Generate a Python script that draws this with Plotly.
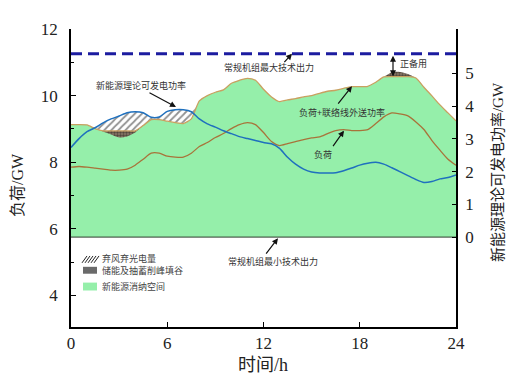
import numpy as np
import plotly.graph_objects as go

# ---------------- data ----------------
hours = [0, 0.5, 1, 1.5, 2, 2.5, 3, 3.5, 4, 4.5, 5, 5.5, 6, 6.5, 7, 7.5, 8, 8.5, 9, 9.5,
         10, 10.5, 11, 11.5, 12, 12.5, 13, 13.5, 14, 14.5, 15, 15.5, 16, 16.5, 17, 17.5,
         18, 18.5, 19, 19.5, 20, 20.5, 21, 21.5, 22, 22.5, 23, 23.5, 24]

# load + tie-line export (GW), before storage
load_tie = [9.13, 9.13, 9.12, 9.01, 8.92, 8.83, 8.74, 8.77, 8.89, 9.10, 9.28, 9.28, 9.23,
            9.19, 9.16, 9.30, 9.84, 10.00, 10.10, 10.17, 10.37, 10.46, 10.52, 10.46, 10.19,
            9.96, 9.82, 9.87, 9.91, 9.96, 10.00, 10.07, 10.13, 10.16, 10.22, 10.27, 10.27,
            10.28, 10.40, 10.56, 10.70, 10.71, 10.65, 10.53, 10.25, 9.99, 9.72, 9.48, 9.24]

# load (GW)
load = [7.85, 7.87, 7.85, 7.82, 7.79, 7.76, 7.76, 7.79, 7.91, 8.09, 8.27, 8.27, 8.18, 8.15,
        8.15, 8.27, 8.47, 8.59, 8.74, 8.86, 9.01, 9.13, 9.19, 9.13, 8.89, 8.62, 8.50, 8.56,
        8.62, 8.68, 8.73, 8.76, 8.86, 8.95, 8.98, 8.95, 8.95, 8.98, 9.16, 9.36, 9.48, 9.45,
        9.39, 9.21, 8.98, 8.65, 8.36, 8.09, 7.91]

# renewable theoretical generation (GW, right axis)
renewable = [2.74, 3.01, 3.22, 3.34, 3.49, 3.61, 3.70, 3.80, 3.83, 3.80, 3.66, 3.67, 3.84,
             3.89, 3.89, 3.83, 3.61, 3.46, 3.36, 3.25, 3.16, 3.07, 3.01, 2.95, 2.89, 2.85,
             2.71, 2.44, 2.23, 2.08, 1.99, 1.96, 1.96, 1.97, 2.03, 2.11, 2.20, 2.26, 2.29,
             2.23, 2.12, 2.00, 1.88, 1.76, 1.67, 1.70, 1.78, 1.82, 1.90]

max_output = 11.26      # conventional units max technical output (GW)
min_output = 5.75       # conventional units min technical output (GW)
valley_level = 8.94     # storage valley filling level
peak_level = 10.57      # storage peak shaving level

x_ticks = [0, 6, 12, 18, 24]
y_ticks = [4, 6, 8, 10, 12]
y2_ticks = [0, 1, 2, 3, 4, 5]

# ---------------- layout geometry (page pixels; page body has an 8px margin) ----------------
BODY = 8
W, H = 520 - BODY, 384 - BODY
PX0, PX1, PY0, PY1 = 71, 456, 25, 327
ML, MT = PX0 - BODY, PY0 - BODY
MR, MB = BODY + W - PX1, BODY + H - PY1
PW, PH = PX1 - PX0, PY1 - PY0
X_RANGE = [0, 24]
L_RANGE = [3.05, 12]
R_RANGE = [-2.741, 6.355]

def px2h(px):
    return X_RANGE[0] + (px - PX0) / PW * (X_RANGE[1] - X_RANGE[0])

def py2v(py):
    return L_RANGE[1] - (py - PY0) / PH * (L_RANGE[1] - L_RANGE[0])

def px2p(px):
    return (px - PX0) / PW

def py2p(py):
    return (PY1 - py) / PH

def r2l(v):
    v = np.asarray(v, dtype=float)
    return L_RANGE[0] + (v - R_RANGE[0]) / (R_RANGE[1] - R_RANGE[0]) * (L_RANGE[1] - L_RANGE[0])

h = np.array(hours)
orig = np.array(load_tie)
adj = np.where(h < 12, np.maximum(orig, valley_level), np.minimum(orig, peak_level))
blue_l = r2l(renewable)
curtail_top = np.maximum(blue_l, adj)

GREEN = '#95EFAA'
TAN = '#C9A060'
BROWN = '#A8733A'
BLUE = '#1F70BE'
NAVY = '#1C1CA0'
SPL = dict(shape='spline', smoothing=0.6)

fig = go.Figure()
fig.add_trace(go.Scatter(x=hours, y=[min_output] * len(hours), mode='lines',
                         line=dict(color='#2d3d2d', width=1), showlegend=False, hoverinfo='skip'))
fig.add_trace(go.Scatter(x=hours, y=adj, mode='lines', fill='tonexty', fillcolor=GREEN,
                         line=dict(width=0, **SPL), showlegend=False))
fig.add_trace(go.Scatter(x=hours, y=adj, mode='lines', line=dict(width=0, **SPL),
                         showlegend=False, hoverinfo='skip'))
fig.add_trace(go.Scatter(x=hours, y=orig, mode='lines', fill='tonexty', fillcolor='#5a5048',
                         fillpattern=dict(shape='.', fgcolor='#1a1410', bgcolor='#8a7a6a', size=3, solidity=0.5),
                         line=dict(width=0, **SPL), showlegend=False))
fig.add_trace(go.Scatter(x=hours, y=adj, mode='lines', line=dict(width=0, **SPL),
                         showlegend=False, hoverinfo='skip'))
fig.add_trace(go.Scatter(x=hours, y=curtail_top, mode='lines', fill='tonexty', fillcolor='white',
                         fillpattern=dict(shape='/', fgcolor='#222', bgcolor='white', size=5, solidity=0.35),
                         line=dict(width=0, **SPL), showlegend=False))
fig.add_trace(go.Scatter(x=hours, y=adj, mode='lines',
                         line=dict(color=TAN, width=1.3, **SPL), showlegend=False))
fig.add_trace(go.Scatter(x=hours, y=load, mode='lines',
                         line=dict(color=BROWN, width=1.3, **SPL), showlegend=False))
fig.add_trace(go.Scatter(x=X_RANGE, y=[max_output, max_output], mode='lines',
                         line=dict(color=NAVY, width=3, dash='11px,6px'), showlegend=False))
fig.add_trace(go.Scatter(x=hours, y=renewable, mode='lines', yaxis='y2',
                         line=dict(color=BLUE, width=1.5, **SPL), showlegend=False))

annotations = []

def text_ann(txt, px, py, size=9):
    annotations.append(dict(x=px2h(px), y=py2v(py), xref='x', yref='y', text=txt, showarrow=False,
                            font=dict(family='Noto Sans CJK SC', size=size, color='#333'),
                            xanchor='center', yanchor='middle'))

def arrow_ann(tip_px, tip_py, tail_px, tail_py, both=False):
    d = dict(x=px2h(tip_px), y=py2v(tip_py), xref='x', yref='y', text='', showarrow=True,
             ax=tail_px - tip_px, ay=tail_py - tip_py, arrowhead=2, arrowsize=1, arrowwidth=1.2,
             arrowcolor='#111')
    if both:
        d.update(arrowside='end+start', startarrowhead=2, startarrowsize=1)
    annotations.append(d)

text_ann('常规机组最大技术出力', 269, 64)
arrow_ann(292, 50, 283, 60)
text_ann('新能源理论可发电功率', 141, 82)
arrow_ann(176, 104, 148, 89)
text_ann('负荷+联络线外送功率', 342, 110)
arrow_ann(352, 83, 337, 102)
text_ann('负荷', 323, 152)
arrow_ann(344, 128, 332, 145)
text_ann('常规机组最小技术出力', 273, 261)
arrow_ann(278, 237, 265, 254)
text_ann('正备用', 413, 60)
arrow_ann(393, 73, 393, 51, both=True)

annotations.append(dict(x=px2p(18), y=py2p(183), xref='paper', yref='paper', text='负荷/GW',
                        textangle=-90, showarrow=False,
                        font=dict(family='Liberation Serif, Noto Sans CJK SC', size=16, color='#222'),
                        xanchor='center', yanchor='middle'))
annotations.append(dict(x=px2p(498), y=py2p(170), xref='paper', yref='paper', text='新能源理论可发电功率/GW',
                        textangle=-90, showarrow=False,
                        font=dict(family='Liberation Serif, Noto Sans CJK SC', size=15, color='#222'),
                        xanchor='center', yanchor='middle'))
annotations.append(dict(x=px2p(263), y=py2p(366), xref='paper', yref='paper', text='时间/h',
                        showarrow=False, font=dict(family='Liberation Serif, Noto Sans CJK SC', size=18, color='#222'),
                        xanchor='center', yanchor='middle'))

# manual legend
leg_font = dict(family='Noto Sans CJK SC', size=9, color='#444')
shapes = []
for x0 in [82, 85, 88, 91, 94]:
    shapes.append(dict(type='line', xref='paper', yref='paper', x0=px2p(x0), y0=py2p(262),
                       x1=px2p(x0 + 5), y1=py2p(255), line=dict(color='#222', width=1)))
shapes.append(dict(type='rect', xref='paper', yref='paper', x0=px2p(83), x1=px2p(97),
                   y0=py2p(273), y1=py2p(266), fillcolor='#6a6a6a', line=dict(width=0)))
shapes.append(dict(type='rect', xref='paper', yref='paper', x0=px2p(83), x1=px2p(97),
                   y0=py2p(290), y1=py2p(282), fillcolor=GREEN, line=dict(width=0)))
for txt, py in [('弃风弃光电量', 258), ('储能及抽蓄削峰填谷', 270), ('新能源消纳空间', 286)]:
    annotations.append(dict(x=px2p(100), y=py2p(py), xref='paper', yref='paper', text=txt,
                            showarrow=False, font=leg_font, xanchor='left', yanchor='middle'))

tick_font = dict(family='Liberation Serif', size=17, color='#222')
fig.update_layout(
    width=W, height=H,
    margin=dict(l=ML, r=MR, t=MT, b=MB, pad=0),
    paper_bgcolor='white', plot_bgcolor='white',
    showlegend=False,
    xaxis=dict(range=X_RANGE, tickvals=x_ticks, ticks='inside', ticklen=5, tickwidth=1.2,
               tickcolor='black', showline=True, linecolor='black', linewidth=1.5,
               showgrid=False, zeroline=False, tickfont=tick_font),
    yaxis=dict(range=L_RANGE, tickvals=y_ticks, ticks='inside', ticklen=5, tickwidth=1.2,
               tickcolor='black', showline=True, linecolor='black', linewidth=1.5,
               showgrid=False, zeroline=False, tickfont=tick_font, ticklabelstandoff=8,
               minor=dict(ticks='inside', dtick=1, tick0=0, ticklen=3, tickcolor='black')),
    yaxis2=dict(range=R_RANGE, tickvals=y2_ticks, overlaying='y', side='right', ticks='inside',
                ticklen=4, tickwidth=1.2, tickcolor='black', showline=True, linecolor='black',
                linewidth=1.5, showgrid=False, zeroline=False, tickfont=tick_font,
                ticklabelstandoff=4),
    annotations=annotations,
    shapes=shapes,
)

fig.write_html('out.html')
